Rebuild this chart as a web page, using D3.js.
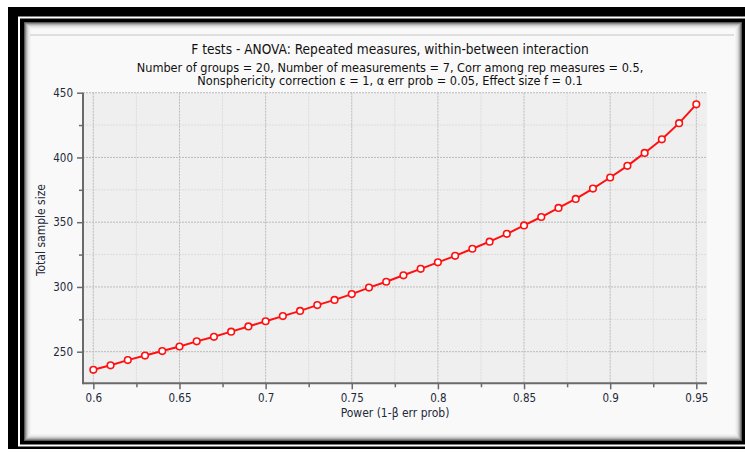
<!DOCTYPE html>
<html><head><meta charset="utf-8">
<script src="https://cdn.jsdelivr.net/npm/d3@7"></script>
<style>body{margin:0;background:#fff}svg{display:block}</style>
</head><body><div id="chart"></div>
<script>
const powers = [0.60,0.61,0.62,0.63,0.64,0.65,0.66,0.67,0.68,0.69,0.70,0.71,0.72,0.73,0.74,0.75,0.76,0.77,0.78,0.79,0.80,0.81,0.82,0.83,0.84,0.85,0.86,0.87,0.88,0.89,0.90,0.91,0.92,0.93,0.94,0.95];
const sampleSizes = [236,239.5,243.5,247,250.5,254,258,261.5,265.5,269.5,273.5,277.5,281.5,286,290,294.5,299.5,304,309,314,319,324,329.5,335,341,347.5,354,361,368,376,384.5,393.5,403.5,414,426.5,441];
const xTicks = [0.6,0.65,0.7,0.75,0.8,0.85,0.9,0.95];
const xMinor = [0.625,0.675,0.725,0.775,0.825,0.875,0.925];
const yTicks = [250,300,350,400,450];
const yMinor = [275,325,375,425];
const titleText = "F tests - ANOVA: Repeated measures, within-between interaction";
const subtitleLines = ["Number of groups = 20, Number of measurements = 7, Corr among rep measures = 0.5,",
  "Nonsphericity correction \u03B5 = 1, \u03B1 err prob = 0.05, Effect size f = 0.1"];
const xLabel = "Power (1-\u03B2 err prob)";
const yLabel = "Total sample size";

const W = 745, H = 452;
const svg = d3.select("#chart").append("svg").attr("width", W).attr("height", H);
const font = "'DejaVu Sans Condensed', 'DejaVu Sans', sans-serif";

// frame
svg.append("rect").attr("x",0).attr("y",0).attr("width",W).attr("height",H).attr("fill","#fff");
svg.append("rect").attr("x",8).attr("y",7).attr("width",W-8).attr("height",442).attr("fill","#000");
svg.append("rect").attr("x",19).attr("y",17.5).attr("width",W-19+5).attr("height",428).attr("fill","none").attr("stroke","#fff").attr("stroke-width",2);
// panel with inner shading
const px0=24, py0=22, px1=742, py1=441;
const shades=["#5a5a5a","#8a8a8a","#b0b0b0","#cdcdcd","#e0e0e0","#ececec","#f3f3f3"];
shades.forEach((c,i)=>{
  svg.append("rect").attr("x",px0+i).attr("y",py0+i).attr("width",px1-px0-2*i).attr("height",py1-py0-2*i).attr("fill",c);
});
svg.append("rect").attr("x",px0+7).attr("y",py0+7).attr("width",px1-px0-14).attr("height",py1-py0-14).attr("fill","#f9f9f9");
svg.append("line").attr("x1",30).attr("x2",734).attr("y1",35).attr("y2",35).attr("stroke","#c4c4c4").attr("stroke-width",1);

// plot area
const L=83, R=707, T=92.7, B=383.3;
const x = d3.scaleLinear().domain([0.594,0.9562]).range([L,R]);
const y = d3.scaleLinear().domain([225.6,450]).range([B,T]);
svg.append("rect").attr("x",L).attr("y",T).attr("width",R-L).attr("height",B-T).attr("fill","#efefef");

const g = svg.append("g");
// minor grid
g.selectAll(".xm").data(xMinor).join("line").attr("x1",d=>x(d)).attr("x2",d=>x(d)).attr("y1",T).attr("y2",B)
  .attr("stroke","#dcdcdc").attr("stroke-dasharray","2,1");
g.selectAll(".ym").data(yMinor).join("line").attr("y1",d=>y(d)).attr("y2",d=>y(d)).attr("x1",L).attr("x2",R)
  .attr("stroke","#dcdcdc").attr("stroke-dasharray","2,1");
// major grid
g.selectAll(".xg").data(xTicks).join("line").attr("x1",d=>x(d)).attr("x2",d=>x(d)).attr("y1",T).attr("y2",B)
  .attr("stroke","#bbbbbb").attr("stroke-dasharray","2,1");
g.selectAll(".yg").data(yTicks).join("line").attr("y1",d=>y(d)).attr("y2",d=>y(d)).attr("x1",L).attr("x2",R)
  .attr("stroke","#bbbbbb").attr("stroke-dasharray","2,1");

// axes
const axCol="#6a6a6a";
const xAxis = svg.append("g").attr("transform",`translate(0,${B})`)
  .call(d3.axisBottom(x).tickValues(xTicks).tickSize(6).tickPadding(5).tickFormat(d=>d3.format("")(+d.toFixed(2))));
const yAxis = svg.append("g").attr("transform",`translate(${L},0)`)
  .call(d3.axisLeft(y).tickValues(yTicks).tickSize(6).tickPadding(4).tickFormat(d3.format("d")));
svg.append("g").attr("transform",`translate(0,${B})`).call(d3.axisBottom(x).tickValues(xMinor).tickSize(4).tickFormat(""))
  .call(a=>a.select(".domain").remove());
svg.append("g").attr("transform",`translate(${L},0)`).call(d3.axisLeft(y).tickValues(yMinor).tickSize(4).tickFormat(""))
  .call(a=>a.select(".domain").remove());
xAxis.select(".domain").remove(); yAxis.select(".domain").remove();
svg.append("line").attr("x1",L).attr("x2",R).attr("y1",B).attr("y2",B).attr("stroke",axCol).attr("stroke-width",2);
svg.append("line").attr("x1",L).attr("x2",L).attr("y1",T).attr("y2",B+1).attr("stroke",axCol).attr("stroke-width",2);
svg.selectAll(".tick line").attr("stroke",axCol).attr("stroke-width",1.5);
svg.selectAll(".tick text").attr("font-family",font).attr("font-size",11.5).attr("fill","#1e2a3a");

// line & points
const pts = powers.map((p,i)=>({p, n: sampleSizes[i]}));
svg.append("path").datum(pts).attr("fill","none").attr("stroke","#ff1010").attr("stroke-width",2)
  .attr("d", d3.line().x(d=>x(d.p)).y(d=>y(d.n)));
svg.selectAll(".pt").data(pts).join("circle").attr("cx",d=>x(d.p)).attr("cy",d=>y(d.n)).attr("r",3.3)
  .attr("fill","#fff").attr("stroke","#ff1010").attr("stroke-width",1.6);

// texts
svg.append("text").attr("x",390).attr("y",54).attr("text-anchor","middle").attr("font-family",font)
  .attr("font-size",13.6).attr("fill","#111").text(titleText);
subtitleLines.forEach((s,i)=>{
  svg.append("text").attr("x",390).attr("y",71.5+i*13.5).attr("text-anchor","middle").attr("font-family",font)
    .attr("font-size",12.6).attr("fill","#111").text(s);
});
svg.append("text").attr("x",395).attr("y",417).attr("text-anchor","middle").attr("font-family",font)
  .attr("font-size",12).attr("fill","#1e2a3a").text(xLabel);
svg.append("text").attr("transform","translate(45,230) rotate(-90)").attr("text-anchor","middle").attr("font-family",font)
  .attr("font-size",12).attr("fill","#1e2a3a").text(yLabel);
</script></body></html>
